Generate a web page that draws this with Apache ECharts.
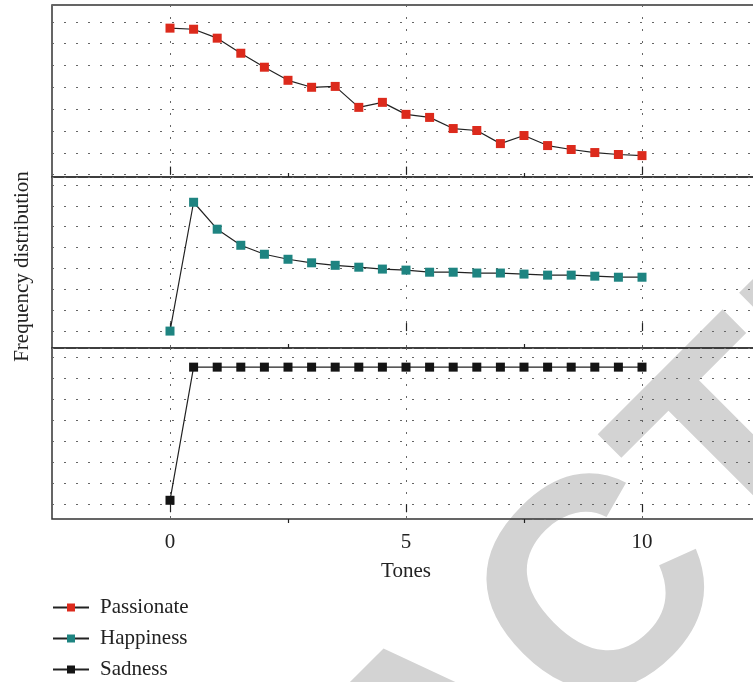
<!DOCTYPE html>
<html>
<head>
<meta charset="utf-8">
<script src="https://cdn.jsdelivr.net/npm/echarts@6/dist/echarts.min.js"></script>
<style>
html,body{margin:0;padding:0;background:#fff;}
#main{width:753px;height:682px;}
</style>
</head>
<body>
<div id="main"></div>
<script>
// data (y values in units of the dotted grid spacing)
var tones = [0, 0.5, 1, 1.5, 2, 2.5, 3, 3.5, 4, 4.5, 5, 5.5, 6, 6.5, 7, 7.5, 8, 8.5, 9, 9.5, 10];
var passionate = [6.71, 6.66, 6.25, 5.56, 4.92, 4.32, 4.00, 4.04, 3.08, 3.31, 2.76, 2.62, 2.11, 2.02, 1.42, 1.79, 1.33, 1.15, 1.01, 0.92, 0.87];
var happiness = [0.00, 6.17, 4.88, 4.11, 3.68, 3.44, 3.27, 3.15, 3.06, 2.97, 2.92, 2.82, 2.82, 2.78, 2.78, 2.73, 2.68, 2.68, 2.63, 2.58, 2.58];
var sadness = [0.19, 6.52, 6.52, 6.52, 6.52, 6.52, 6.52, 6.52, 6.52, 6.52, 6.52, 6.52, 6.52, 6.52, 6.52, 6.52, 6.52, 6.52, 6.52, 6.52, 6.52];
var names = ['Passionate', 'Happiness', 'Sadness'];
var colors = ['#dc2a1c', '#1e8481', '#141414'];
var majorTicks = [0, 5, 10];
var minorTicks = [2.5, 7.5];
var yMin = [-0.11, -0.81, -0.7];
var yMax = [7.77, 7.38, 7.43];

var font = 'Liberation Serif';
var values = [passionate, happiness, sadness];
var tops = [5, 177, 348];
var heights = [172, 171, 171];

function pairs(arr) {
    var out = [];
    for (var i = 0; i < arr.length; i++) {
        out.push([tones[i], arr[i]]);
    }
    return out;
}

var grids = [], xAxes = [], minorAxes = [], yAxes = [], series = [];
var dotted = {color: '#666', width: 1, type: [2, 10]};

for (var i = 0; i < 3; i++) {
    grids.push({
        left: 52, width: 708, top: tops[i], height: heights[i],
        outerBoundsMode: 'none',
        show: true, borderColor: '#333', borderWidth: 1.5,
        backgroundColor: 'transparent'
    });
    xAxes.push({
        gridIndex: i, type: 'value', position: 'bottom',
        min: -2.5, max: 12.5, splitNumber: 3,
        axisLine: {show: false},
        axisTick: {show: true, customValues: majorTicks, inside: i < 2, length: 8, lineStyle: {color: '#222', width: 1.2}},
        axisLabel: {show: i == 2, customValues: majorTicks, margin: 13, fontFamily: font, fontSize: 21, color: '#222'},
        splitLine: {show: true, lineStyle: dotted},
        name: i == 2 ? 'Tones' : '',
        nameLocation: 'middle', nameGap: 42,
        nameTextStyle: {fontFamily: font, fontSize: 21, color: '#222'}
    });
    minorAxes.push({
        gridIndex: i, type: 'value', position: 'bottom',
        min: -2.5, max: 12.5, splitNumber: 3,
        axisLine: {show: false},
        axisTick: {show: true, customValues: minorTicks, inside: i < 2, length: 4, lineStyle: {color: '#222', width: 1.2}},
        axisLabel: {show: false},
        splitLine: {show: false}
    });
    yAxes.push({
        gridIndex: i, type: 'value',
        min: yMin[i], max: yMax[i], splitNumber: 8,
        axisLine: {show: false}, axisTick: {show: false}, axisLabel: {show: false},
        splitLine: {show: true, lineStyle: dotted},
        name: i == 1 ? 'Frequency distribution' : '',
        nameLocation: 'middle', nameGap: 19,
        nameTextStyle: {fontFamily: font, fontSize: 21, color: '#222', padding: [0, 8, 0, 0]}
    });
    series.push({
        name: names[i], type: 'line',
        xAxisIndex: i, yAxisIndex: i,
        data: pairs(values[i]),
        symbol: 'rect', symbolSize: 9, showAllSymbol: true,
        itemStyle: {color: colors[i]},
        lineStyle: {color: '#222', width: 1.2},
        z: 5
    });
}

var myChart = echarts.init(document.getElementById('main'));
myChart.setOption({
    animation: false,
    graphic: [{
        type: 'text', z: -100,
        x: -95, y: 1514, rotation: Math.PI / 4,
        style: {
            text: 'RETRACTED', fill: '#d3d3d3',
            font: 'bold 300px "Liberation Sans"',
            textAlign: 'left', textVerticalAlign: 'bottom'
        }
    }],
    grid: grids,
    xAxis: xAxes.concat(minorAxes),
    yAxis: yAxes,
    legend: {
        data: names, orient: 'vertical', left: 52, top: 597, padding: 0,
        itemWidth: 36, itemHeight: 10, itemGap: 10,
        textStyle: {fontFamily: font, fontSize: 21, color: '#222', lineHeight: 20, padding: [0, 0, 0, 6]}
    },
    series: series
});
</script>
</body>
</html>
